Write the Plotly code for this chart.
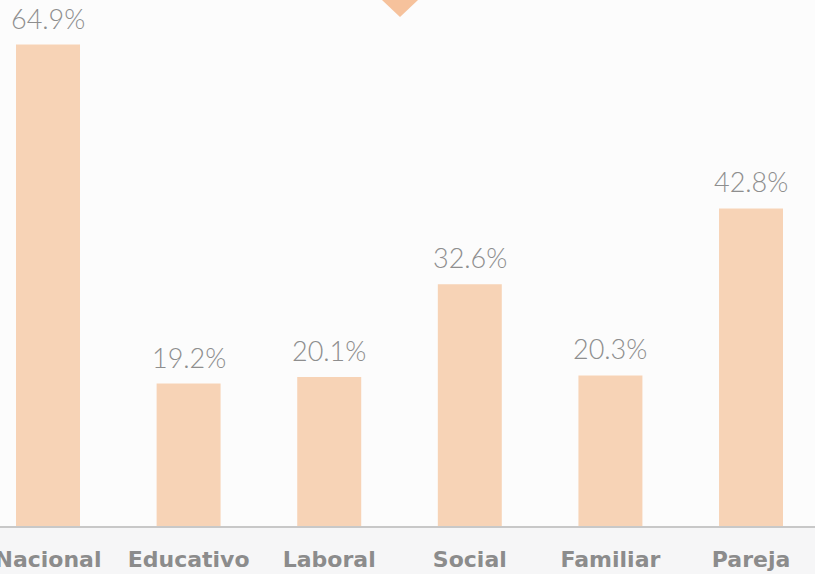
import plotly.graph_objects as go

categories = ["Nacional", "Educativo", "Laboral", "Social", "Familiar", "Pareja"]
values = [64.9, 19.2, 20.1, 32.6, 20.3, 42.8]
labels = [f"{v:.1f}%" for v in values]

W, H = 815, 574
BAR = "#f7d3b6"

fig = go.Figure()
fig.add_trace(go.Bar(
    x=categories, y=values,
    marker=dict(color=BAR, line=dict(width=0)),
    width=0.455,
    hoverinfo="skip",
))

for c, v, t in zip(categories, values, labels):
    fig.add_annotation(
        x=c, y=v, text=t, showarrow=False, yanchor="bottom", yshift=8,
        font=dict(family="Lato", size=27, color="#8e8e8e", weight=300),
    )

# decorative triangle at top
fig.add_shape(
    type="path", xref="paper", yref="paper",
    path=f"M {382/W} 1.0 L {418/W} 1.0 L {400/W} {1-17/526} Z",
    fillcolor="#f6c29c", line=dict(width=0), layer="above",
)

fig.update_layout(
    width=W, height=H,
    margin=dict(l=0, r=0, t=0, b=48, autoexpand=False),
    paper_bgcolor="#f6f6f7",
    plot_bgcolor="#fcfcfc",
    showlegend=False,
    xaxis=dict(
        range=[-0.3414, 5.455],
        automargin=False,
        showgrid=False, zeroline=False,
        showline=True, linecolor="#c8c8c8", linewidth=2,
        ticks="", ticklabelstandoff=13,
        tickfont=dict(family="DejaVu Sans", size=22, color="#8c8c8c", weight=700),
        fixedrange=True,
    ),
    yaxis=dict(
        range=[0, 70.9], visible=False, fixedrange=True, automargin=False,
    ),
)

fig.write_html(
    "out.html",
    config={"displayModeBar": False},
    post_script="document.body.style.margin='0';document.body.style.overflow='hidden';",
)
